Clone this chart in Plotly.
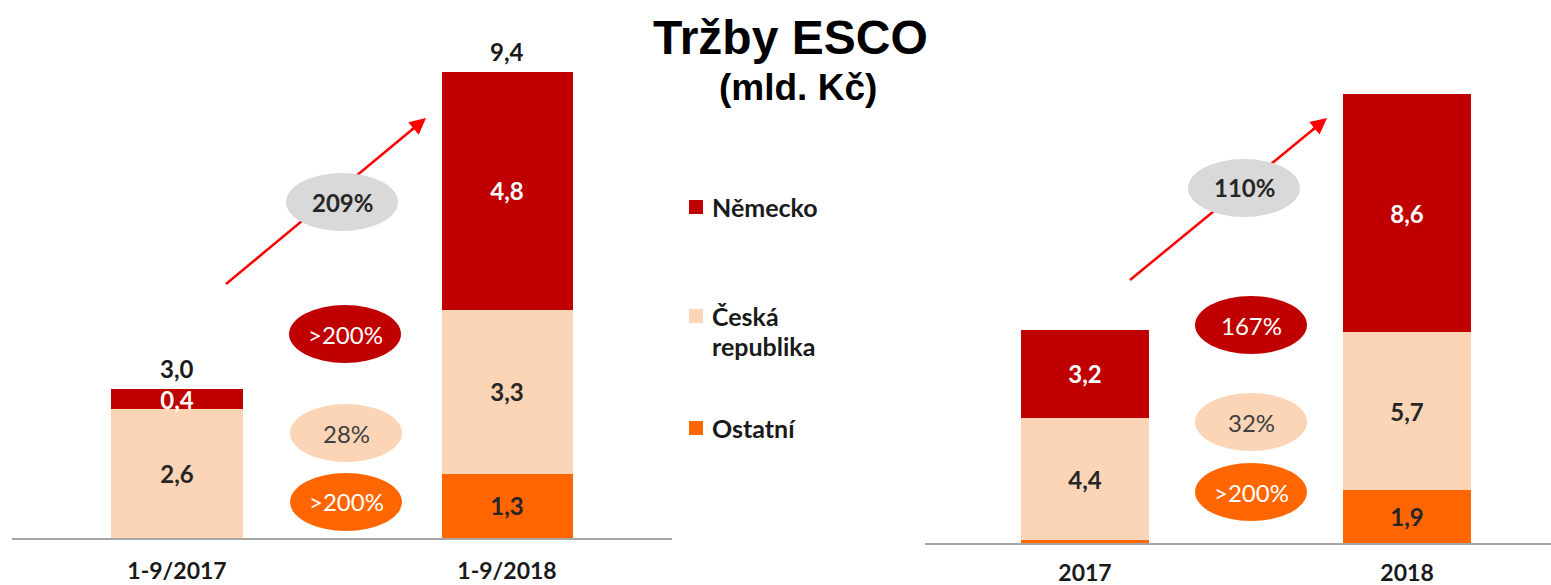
import plotly.graph_objects as go

W, H = 1551, 585

# ---- data ----
cats_left = ["1-9/2017", "1-9/2018"]
cats_right = ["2017", "2018"]
series_names = ["Ostatní", "Česká republika", "Německo"]
ostatni_left = [0.0, 1.3]
ceska_left = [2.6, 3.3]
nemecko_left = [0.4, 4.8]
ostatni_right = [0.1, 1.9]
ceska_right = [4.4, 5.7]
nemecko_right = [3.2, 8.6]
growth_left = ["209%", ">200%", "28%", ">200%"]   # total, Německo, ČR, Ostatní
growth_right = ["110%", "167%", "32%", ">200%"]

colors = {"Ostatní": "#FF6600", "Česká republika": "#FBD5B5", "Německo": "#C00000"}
text_colors = {"Ostatní": "#262626", "Česká republika": "#262626", "Německo": "#FFFFFF"}

VAL_FONT = "Lato"
VAL_SIZE = 24


def fmt(v):
    return f"{v:.1f}".replace(".", ",")


def px_x(p):
    return p / W


def px_y(p):
    return 1 - p / H


fig = go.Figure()

panels = [
    ("x", "y", cats_left, [ostatni_left, ceska_left, nemecko_left], 0.397),
    ("x2", "y2", cats_right, [ostatni_right, ceska_right, nemecko_right], 0.40),
]
for xa, ya, cats, vals, bw in panels:
    for name, v in zip(series_names, vals):
        fig.add_trace(go.Bar(
            x=cats, y=v, name=name, xaxis=xa, yaxis=ya, width=bw,
            marker=dict(color=colors[name], line=dict(width=0)),
            text=[fmt(a) if a >= 0.3 else "" for a in v],
            textposition="inside", insidetextanchor="middle",
            constraintext="none", textangle=0,
            textfont=dict(family=VAL_FONT, size=VAL_SIZE, color=text_colors[name], weight="bold"),
            showlegend=False, hoverinfo="skip",
        ))
    totals = [sum(t) for t in zip(*vals)]
    for c, t in zip(cats, totals):
        fig.add_annotation(x=c, y=t, xref=xa, yref=ya, text=fmt(t), showarrow=False,
                           xanchor="center", yanchor="bottom", yshift=4,
                           font=dict(family=VAL_FONT, size=VAL_SIZE, color="#1A1A1A", weight="bold"))

axis_common = dict(showgrid=False, zeroline=False, fixedrange=True)
fig.update_layout(
    width=W, height=H, margin=dict(l=0, r=0, t=0, b=0),
    paper_bgcolor="white", plot_bgcolor="white", barmode="stack", showlegend=False,
    xaxis=dict(domain=[px_x(12), px_x(672)], range=[-0.5, 1.5], showline=True,
               linecolor="#A6A6A6", linewidth=2, ticks="", ticklabelstandoff=11,
               tickfont=dict(family=VAL_FONT, size=23, color="#1A1A1A", weight="bold"),
               automargin=False, **axis_common),
    yaxis=dict(domain=[1 - 538 / H, 1], range=[0, 538 / 49.6], visible=False, **axis_common),
    xaxis2=dict(domain=[px_x(925), 1], range=[-0.497, 1.447], showline=True,
                linecolor="#A6A6A6", linewidth=2, ticks="", ticklabelstandoff=8,
                tickfont=dict(family=VAL_FONT, size=23, color="#1A1A1A", weight="bold"),
                anchor="y2", automargin=False, **axis_common),
    yaxis2=dict(domain=[1 - 543 / H, 1], range=[0, 543 / 27.72], visible=False,
                anchor="x2", **axis_common),
)

# ---- arrows (shaft as shape so ellipses cover it; head as annotation) ----
arrows = [((226, 284), (426, 118)), ((1130, 280), (1327, 118))]
for (x0, y0), (x1, y1) in arrows:
    fig.add_shape(type="line", xref="paper", yref="paper",
                  x0=px_x(x0), y0=px_y(y0), x1=px_x(x1 - 6), y1=px_y(y1 + 5),
                  line=dict(color="#FF0000", width=2.5))
    fig.add_annotation(xref="paper", yref="paper", x=px_x(x1), y=px_y(y1),
                       ax=-(x1 - x0) * 0.08, ay=(y0 - y1) * 0.08, text="",
                       showarrow=True, arrowhead=2, arrowsize=1.3, arrowwidth=2.5,
                       arrowcolor="#FF0000", standoff=0)

# ---- growth ellipses ----
ell_style = [
    ("#D9D9D9", "#262626", "bold"),
    ("#C00000", "#FFFFFF", "normal"),
    ("#FBD5B5", "#404040", "normal"),
    ("#FF6600", "#FFFFFF", "normal"),
]
ell_pos_left = [(342, 202), (345, 334), (346, 433), (346, 502)]
ell_pos_right = [(1244, 188), (1251, 325), (1251, 422), (1251, 492)]
for positions, labels in [(ell_pos_left, growth_left), (ell_pos_right, growth_right)]:
    for (cx, cy), lab, (fill, tc, wt) in zip(positions, labels, ell_style):
        fig.add_shape(type="circle", xref="paper", yref="paper",
                      x0=px_x(cx - 56), x1=px_x(cx + 56), y0=px_y(cy + 29), y1=px_y(cy - 29),
                      fillcolor=fill, line=dict(width=0))
        fig.add_annotation(xref="paper", yref="paper", x=px_x(cx), y=px_y(cy), text=lab,
                           showarrow=False, xanchor="center", yanchor="middle",
                           font=dict(family=VAL_FONT, size=VAL_SIZE, color=tc, weight=wt))

# ---- legend (manual, to match irregular spacing) ----
legend_items = [("Německo", ["Německo"], 207), ("Česká republika", ["Česká", "republika"], 316),
                ("Ostatní", ["Ostatní"], 428)]
for key, lines, ly in legend_items:
    fig.add_shape(type="rect", xref="paper", yref="paper",
                  x0=px_x(689), x1=px_x(703), y0=px_y(ly + 7), y1=px_y(ly - 7),
                  fillcolor=colors[key], line=dict(width=0))
    for i, ln in enumerate(lines):
        fig.add_annotation(xref="paper", yref="paper", x=px_x(710), y=px_y(ly + i * 30),
                           text=ln, showarrow=False, xanchor="left", yanchor="middle",
                           font=dict(family=VAL_FONT, size=25, color="#1A1A1A", weight="bold"))

# ---- title ----
fig.add_annotation(xref="paper", yref="paper", x=px_x(790), y=px_y(37), text="<b>Tržby ESCO</b>",
                   showarrow=False, xanchor="center", yanchor="middle",
                   font=dict(family="Liberation Sans", size=48, color="#000000"))
fig.add_annotation(xref="paper", yref="paper", x=px_x(798), y=px_y(87), text="<b>(mld. Kč)</b>",
                   showarrow=False, xanchor="center", yanchor="middle",
                   font=dict(family="Liberation Sans", size=37, color="#000000"))

fig.write_html("out.html", config={"displayModeBar": False},
               post_script="document.body.style.margin='0';document.body.style.overflow='hidden';")
